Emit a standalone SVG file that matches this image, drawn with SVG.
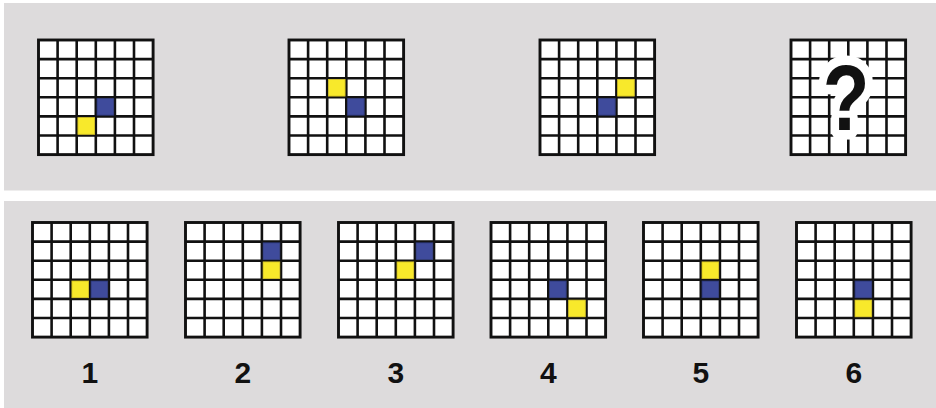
<svg xmlns="http://www.w3.org/2000/svg" xmlns:xlink="http://www.w3.org/1999/xlink" width="936" height="408" viewBox="0 0 936 408">
<style>
.panel{fill:#dddbdc}
.lines{fill:none;stroke:#111;stroke-width:2.6}
.frame{fill:none;stroke:#111;stroke-width:2.9}
.b{fill:#3f4b9c;stroke:#283372;stroke-width:0.8}
.y{fill:#f8e92b;stroke:#cdbb1e;stroke-width:0.8}
.lbl{font-family:"Liberation Sans",Arial,sans-serif;font-weight:bold;font-size:30px;fill:#111;text-anchor:middle}
.q{font-family:"Liberation Sans",Arial,sans-serif;font-weight:bold;font-size:92px;text-anchor:middle}
</style>
<defs>
<path id="inner" class="lines" d="M19.1 0V114.6M38.2 0V114.6M57.3 0V114.6M76.4 0V114.6M95.5 0V114.6M0 19.1H114.6M0 38.2H114.6M0 57.3H114.6M0 76.4H114.6M0 95.5H114.6"/>
<g id="grid">
<rect x="0" y="0" width="114.6" height="114.6" fill="#fff"/>
<use xlink:href="#inner"/>
<rect class="frame" x="0" y="0" width="114.6" height="114.6"/>
</g>
</defs>
<rect width="936" height="408" fill="#fff"/>
<rect class="panel" x="4" y="3" width="932" height="187.5"/>
<rect class="panel" x="4" y="201" width="932" height="207"/>

<g id="top1" transform="translate(38.5,40)">
<use xlink:href="#grid"/>
<rect class="b" x="58.5" y="58.5" width="16.7" height="16.7"/>
<rect class="y" x="39.4" y="77.6" width="16.7" height="16.7"/>
</g>
<g id="top2" transform="translate(289,40)">
<use xlink:href="#grid"/>
<rect class="y" x="39.4" y="39.4" width="16.7" height="16.7"/>
<rect class="b" x="58.5" y="58.5" width="16.7" height="16.7"/>
</g>
<g id="top3" transform="translate(540,40)">
<use xlink:href="#grid"/>
<rect class="y" x="77.6" y="39.4" width="16.7" height="16.7"/>
<rect class="b" x="58.5" y="58.5" width="16.7" height="16.7"/>
</g>
<g id="top4" transform="translate(791,40)">
<rect x="0" y="0" width="114.6" height="114.6" fill="#fff"/>
<use xlink:href="#inner"/>
<text class="q" transform="translate(55,90) scale(0.83,1)" fill="#fff" stroke="#fff" stroke-width="19" stroke-linejoin="round">?</text>
<text class="q" transform="translate(55,90) scale(0.83,1)" fill="#111">?</text>
<rect class="frame" x="0" y="0" width="114.6" height="114.6"/>
</g>

<g id="opt1" transform="translate(32.5,222.5)">
<use xlink:href="#grid"/>
<rect class="y" x="39.4" y="58.5" width="16.7" height="16.7"/>
<rect class="b" x="58.5" y="58.5" width="16.7" height="16.7"/>
<text class="lbl" x="57.3" y="160.5">1</text>
</g>
<g id="opt2" transform="translate(185.5,222.5)">
<use xlink:href="#grid"/>
<rect class="b" x="77.6" y="20.3" width="16.7" height="16.7"/>
<rect class="y" x="77.6" y="39.4" width="16.7" height="16.7"/>
<text class="lbl" x="57.3" y="160.5">2</text>
</g>
<g id="opt3" transform="translate(338.5,222.5)">
<use xlink:href="#grid"/>
<rect class="b" x="77.6" y="20.3" width="16.7" height="16.7"/>
<rect class="y" x="58.5" y="39.4" width="16.7" height="16.7"/>
<text class="lbl" x="57.3" y="160.5">3</text>
</g>
<g id="opt4" transform="translate(491,222.5)">
<use xlink:href="#grid"/>
<rect class="b" x="58.5" y="58.5" width="16.7" height="16.7"/>
<rect class="y" x="77.6" y="77.6" width="16.7" height="16.7"/>
<text class="lbl" x="57.3" y="160.5">4</text>
</g>
<g id="opt5" transform="translate(643.5,222.5)">
<use xlink:href="#grid"/>
<rect class="y" x="58.5" y="39.4" width="16.7" height="16.7"/>
<rect class="b" x="58.5" y="58.5" width="16.7" height="16.7"/>
<text class="lbl" x="57.3" y="160.5">5</text>
</g>
<g id="opt6" transform="translate(796.5,222.5)">
<use xlink:href="#grid"/>
<rect class="b" x="58.5" y="58.5" width="16.7" height="16.7"/>
<rect class="y" x="58.5" y="77.6" width="16.7" height="16.7"/>
<text class="lbl" x="57.3" y="160.5">6</text>
</g>
<g id="connectors"/>
</svg>
